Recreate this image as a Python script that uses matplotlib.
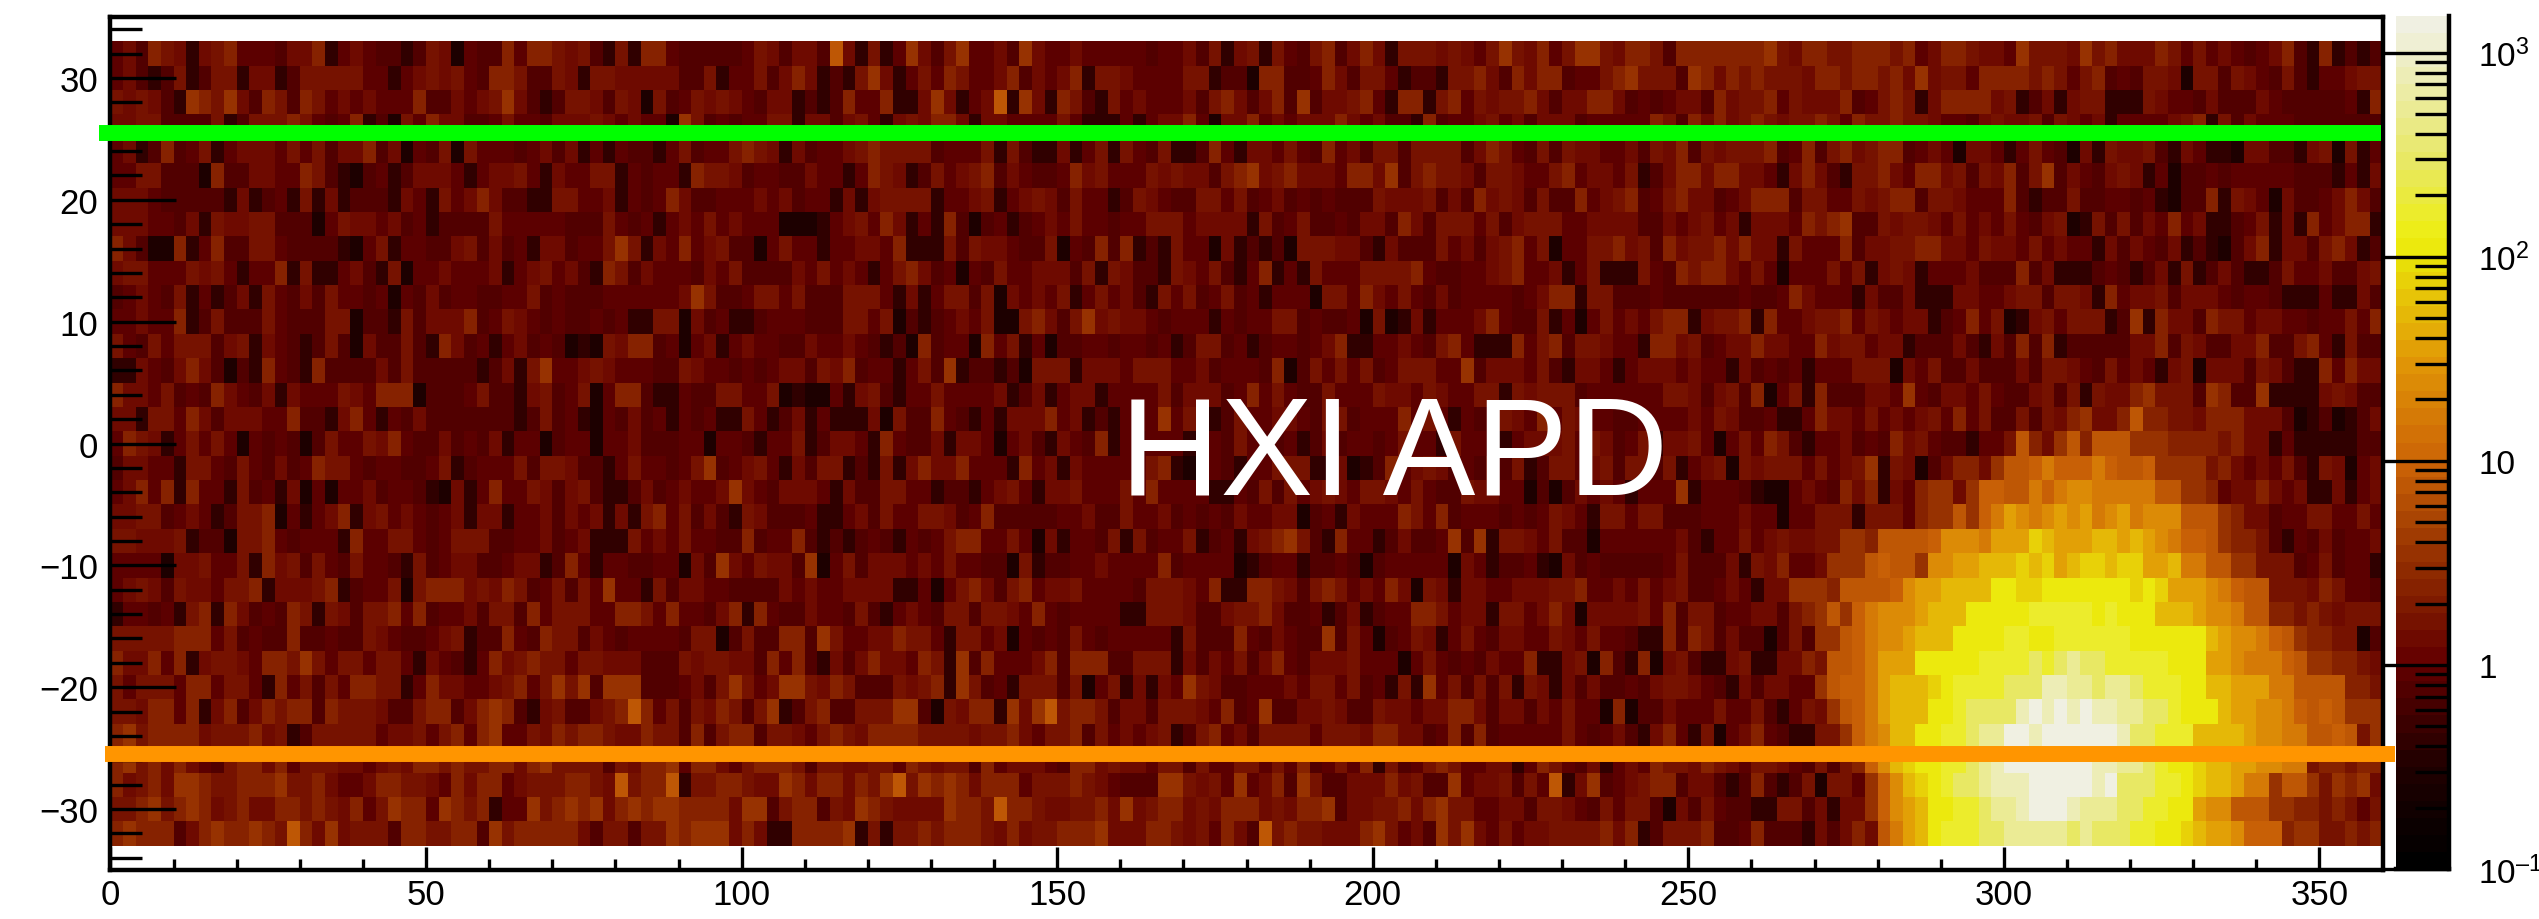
import numpy as np
import matplotlib
matplotlib.use("Agg")
import matplotlib.pyplot as plt
from matplotlib.colors import LinearSegmentedColormap, LogNorm
from matplotlib.ticker import NullFormatter

plt.rcParams['font.family'] = ['Liberation Sans', 'DejaVu Sans']
plt.rcParams['mathtext.fontset'] = 'custom'
plt.rcParams['mathtext.rm'] = 'Liberation Sans'
plt.rcParams['mathtext.default'] = 'regular'

# counts that each character in cell_rows stands for
level_chars = "0123456789abcdefghijk"
level_counts = [0.28, 0.45, 0.72, 1.0, 1.3, 1.7, 2.4, 3.4, 7, 10, 15, 22, 35, 50, 75,
                115, 170, 300, 480, 800, 1300]

# one string per row from top (y=33) to bottom (y=-33), 180 cells each, read by eye
cell_rows = [
    "3426541456 3332446134 3221254032 2636654521 5166322222 3542442841 5137425733 4274334333 3323342514 5153256246 4155545435 7546357754 6652666666 6754665566 6563466544 3755547564 4465353432 3462161212",
    "3421251255 1441255555 3313454532 6652254155 4444422513 3524641215 7413536533 4624346155 4333355122 0662236425 5312215564 2646623356 7555276465 6555466566 5647455366 6656535623 2554055254 3252133455",
    "5454217657 4265265343 4333622434 5742125542 5405235454 3244121263 3611474134 8174165215 3433342564 2462724456 3166156354 5564244664 2323442645 5635444623 5651466664 5124145511 1543324222 4322222316",
    "4455222251 2555653236 1205364422 3533244454 3433075232 3355144245 3145466414 4333353111 3134463044 6343444643 4221623345 3424442333 3365264645 6545565365 5655433245 4452543413 3334561524 3332222222",
    "3412623513 4443535244 6240325053 3323424131 3221352335 6541423345 6555523335 1521141351 5325112631 4435326342 5525555246 5325254433 4254625455 5623625645 6623430443 1353204154 4521431104 4221450513",
    "3355222062 2443365210 2312444313 4453143355 1323316554 2332243313 6541253456 2432236453 3354544256 7456444366 4725655425 5433563443 5124664664 4314642155 6436645254 6257243245 4130223233 3332221314",
    "4443222221 4123151412 2214315346 4221155334 1323642233 3434233141 4555513345 1345425331 2543225535 2342323222 5444524264 5425226345 6235644234 6662553354 5662554333 6212252233 2310226154 3042234642",
    "4443324154 4552220354 4342312222 5333332225 3231343534 3330001345 3641316202 3123435332 3355534444 1523522324 4264255535 2455533444 4224345341 4443656722 5455435343 5324501525 2436341123 5141634661",
    "6420061362 2553222210 3513322452 4231442335 7514363452 2035331334 4361115254 4322503262 6121533041 2120555442 1422253424 5635033556 4526455646 4415333624 4556644354 4353433142 4324121024 6144256412",
    "4553335453 1336151134 2150334333 4134534216 5243332435 2222435343 1356423032 5334442515 4221543521 3613153335 5556322334 5633413511 1532656643 5303335351 4541333422 2624111232 1241512421 1253342245",
    "2343251312 4153242533 2303242332 2335232223 3333347522 3553522255 5314135525 0434351353 4215352352 3133305536 4353242333 3234661552 2232222223 2236433314 2241114433 4552554163 4452444323 3211131142",
    "3343361252 2253222550 2215244462 3543232232 3115504231 1233322255 3502123435 0056425745 4432333132 3355232230 5014133346 3225130353 4356614556 1633455635 4344123635 0145355512 7164426553 4433233536",
    "5325355524 5143212520 4225216423 1342320105 4662303413 4332243343 2120623306 3513022332 3323125523 1233234611 3343256311 1635625543 3166452344 6443364553 4412224214 2626122222 4462542244 6225631522",
    "1143246420 2163216222 2425222221 2415733454 3332254332 3234425462 3313527122 1205551444 3555334233 3260253535 2355533724 4435214431 3444343314 2323133355 5043522422 2425543253 4314504442 5421163644",
    "6443523264 3241433354 3666022235 2214523503 6621132255 3350100314 5213353333 4124134413 3335244423 6353225333 5443543355 1545552333 3335542452 6035162224 4373244353 2245251544 6755527622 7111145422",
    "4415536424 4433622146 3132422222 2212523103 2423132311 5312413111 4052263213 1444634121 3337354125 3344325523 3363531323 5436354332 2333343542 2311364435 3434536352 2525467446 8665546664 4420120124",
    "3654135353 0323202533 5463224232 4133023303 3422233033 2133512443 1632241443 0342143261 3233315325 3223124233 2353315333 1344453542 3514453035 3652133423 2645322133 5864786888 7776666564 4131111122",
    "2443315532 5324236553 2332235123 3352554221 3533235723 4531425512 1514644633 3163414333 3356105321 3355511401 2634542324 2512553452 5525134505 4555353457 1540246647 889a999a98 8977775643 4352154034",
    "3463616331 5231403033 4233210413 6335424521 1242343347 4324443142 2553312213 4531445333 5363333113 2525345435 5435322544 3302024343 1333713332 1003432646 1436774799 88a9abbaaa aa88776344 6434114134",
    "4455234312 5560313461 4534323414 4133424341 4156352421 5422231134 2533554236 2222233422 5334232324 3344023143 3365362333 2323543155 3552223334 3303355515 553677879a cbabcbcabc abbb888764 4233553353",
    "5544451220 5563233316 3355323555 2233423411 1534353322 6233621212 3213235663 3530413325 1523351231 4567521633 1242237271 5543522033 3333421335 3454455776 88889bbbac ccedcccddc dcba998766 5213242334",
    "3333044533 5164525325 3321523442 2344126313 3223304274 3544270352 4443435332 2051223343 3336233330 1233122320 2333330431 2231042322 2223522241 5463347778 9887bbccdd dedecdeede eccdaa8877 5552352331",
    "3454254435 5614445612 3350566645 4652352537 3315244332 2224343344 4411303564 2563445333 3255543611 6654256534 3640541443 3444556334 3534522343 1447776888 89bccddddf feefffffff efecccba98 8555465332",
    "1332315616 4232651542 5563623342 5526355533 6653633246 1632243325 2134325525 5436323333 1155542245 5642231241 2336653441 5534640444 4536255233 442567879a bbbcdddfff ffgggggfgf ffdddcbba8 8665654555",
    "5555566635 2322622322 5432234512 2632655243 2333325502 5226627533 4465531553 4032325323 3333152226 3243227253 0235413532 4433543533 2116265242 202527789a bbcdddffff ggffgggggg ffffffdcbb a987665502",
    "6446361455 4366575355 3553143213 6456553554 4422254554 4263621424 6443651726 3334626662 2555142435 2463244453 3303532324 3361145062 1604521145 114465889a cccfffffgg gghghihhgg gggfffccba aa98776654",
    "5355536635 5316352536 6551364433 4563575727 7722234257 5347754652 2254561752 3155525035 1414375422 3334355352 3151735252 5154142422 3245543214 244337899a cdddefgggg hhhjjiihii hgggffddcc caa8888665",
    "5546636146 2465662655 5422566246 7621452245 6863525465 2571256225 5577205466 1747856652 4425554362 3722445422 5443446642 4424353306 0224333533 521354789a cdddffghhh hjkjkjkjji ihhgfffdcc bba9898777",
    "6756666455 5645125555 5344535636 7335465665 4465526256 6255435654 6666555545 5643556253 4345125634 2555535554 6644236262 3333353234 2146315034 632115579a bddffgghii kkjkkkkkkj hhgggddddc bbaa889857",
    "6756464325 6646355544 3454665655 6646755552 5466736643 5666525544 5536545526 3444326645 4435525335 5353623536 1523565334 4136532413 4365546543 5543252569 bdeffgghij kkkkkkkjji ihgffeddcc bbaa566566",
    "6456477655 6667556433 4665543646 6345556654 8566815566 5447646646 5785767646 6635556543 2227754537 3462752244 4645227344 5253814723 4566244212 6212505537 9bdefghhij jjkkkkkjkh hhggfeddca a788757674",
    "5567567645 6446656546 3576637656 1337567674 6767766664 7725662547 6544447665 8665445564 7456645466 6454667244 5564675533 4425543253 5520425322 1155241447 9bcdffgghi ijkkkjiiih hggffcbb88 8776656535",
    "6766624676 6765864745 5526655662 7566666425 5255767774 6411666671 5155656665 4645566674 4466545364 2856554446 7534275743 5344555564 6125556223 6222142464 8acdfggghh iiiiihihhh ggffedccb9 9967755656",
]

x_bin = 2
y_top = 33
green_y = 25.5
orange_y = -25.5
label_text = "HXI APD"

counts = []
for row in cell_rows:
    row = row.replace(" ", "")
    if len(row) != 180:
        print("row length", len(row))
    counts.append([level_counts[level_chars.index(c)] for c in row])
counts = np.array(counts)

x_edges = np.arange(counts.shape[1] + 1) * x_bin
y_edges = y_top - np.arange(counts.shape[0] + 1) * 2

# same look as the ROOT dark body palette
vmin, vmax = 0.1, 1514
def pos(v):
    return (np.log10(v) - np.log10(vmin)) / (np.log10(vmax) - np.log10(vmin))
stops = [(0, "#000000"), (pos(0.3), "#200000"), (pos(1), "#640000"), (pos(3), "#902c00"),
         (pos(10), "#cc6406"), (pos(30), "#e09406"), (pos(70), "#e8c808"), (pos(100), "#e8e008"),
         (pos(130), "#eeee10"), (pos(300), "#e8e860"), (pos(1000), "#eeeec4"), (1, "#f0f0e2")]
cmap = LinearSegmentedColormap.from_list("dark_body", stops, N=50)
norm = LogNorm(vmin=vmin, vmax=vmax)

W, H = 2539, 920
fig = plt.figure(figsize=(W / 100, H / 100), dpi=100)
left, right, top, bottom = 110.5, 2382.5, 18, 871
ax = fig.add_axes([left / W, 1 - bottom / H, (right - left) / W, (bottom - top) / H])
mesh = ax.pcolormesh(x_edges, y_edges, counts, cmap=cmap, norm=norm, shading="flat", linewidth=0)
ax.set_xlim(0, 360)
ax.set_ylim(-35, 35)

ax.set_xticks(np.arange(0, 351, 50))
ax.set_xticks(np.arange(0, 360, 10), minor=True)
ax.set_yticks(np.arange(-30, 31, 10))
ax.set_yticks(np.arange(-34, 35, 2), minor=True)
ax.set_yticklabels([str(v).replace("-", "\u2212") for v in np.arange(-30, 31, 10)])
ax.tick_params(axis="x", which="major", direction="in", length=16.5, width=2.4, labelsize=25, pad=6)
ax.tick_params(axis="x", which="minor", direction="in", length=8, width=2.4)
ax.tick_params(axis="y", which="major", direction="in", length=47.5, width=2.4, labelsize=25, pad=9)
ax.tick_params(axis="y", which="minor", direction="in", length=23, width=2.4)
for s in ax.spines.values():
    s.set_linewidth(3.2)

ax.plot([-1.8, 359.8], [green_y, green_y], color="#00ff00", lw=11.5, solid_capstyle="butt",
        clip_on=False, zorder=5)
ax.plot([-0.9, 362], [orange_y, orange_y], color="#ff9500", lw=11.5, solid_capstyle="butt",
        clip_on=False, zorder=5)
ax.text(203.4, -4.07, label_text, color="white", fontsize=100, ha="center", va="baseline", zorder=6)

# colour bar
cax = fig.add_axes([2396 / W, 1 - 870 / H, (2449 - 2396) / W, (870 - 17) / H])
cb = fig.colorbar(mesh, cax=cax)
cb.outline.set_visible(False)
cax.spines["right"].set_visible(True)
cax.spines["right"].set_linewidth(3.2)
cax.spines["bottom"].set_visible(True)
cax.spines["bottom"].set_linewidth(3.2)
cb.set_ticks([0.1, 1, 10, 100, 1000], labels=["$10^{\u20131}$", "1", "10", "$10^{2}$", "$10^{3}$"])
minor = []
for d in [0.1, 1, 10, 100, 1000]:
    for m in range(2, 10):
        if d * m < vmax:
            minor.append(d * m)
cb.ax.yaxis.set_ticks(minor, minor=True)
cb.ax.yaxis.set_minor_formatter(NullFormatter())
cax.tick_params(axis="y", which="major", direction="in", length=48, width=2.4, labelsize=24, pad=21)
cax.tick_params(axis="y", which="minor", direction="in", length=24.5, width=2.4)

fig.savefig("out.png", dpi=100)
